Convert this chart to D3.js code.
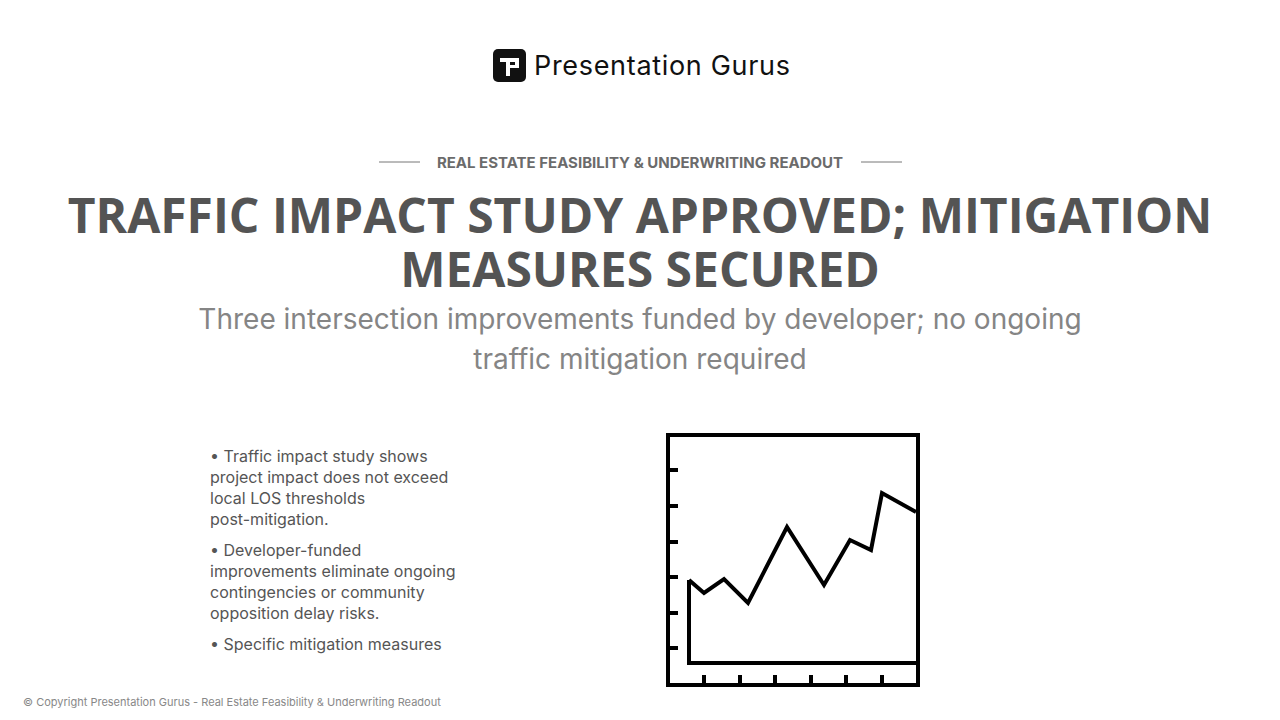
<!DOCTYPE html><html><head><meta charset="utf-8"><script src="https://cdn.jsdelivr.net/npm/d3@7"></script>
<style>body{margin:0;background:#fff}</style></head><body><svg id="c" width="1280" height="720"></svg>
<script>
const lineX=[0,15,35,59,98,135,161,182,193,227];
const lineY=[83,70,84,60,136,78,123,113,170,151];
const yTicks=[15,50,86,121,157,193];
const xTicks=[15,51,86,122,157,193];
const bullets=[["• Traffic impact study shows","project impact does not exceed","local LOS thresholds","post-mitigation."],["• Developer-funded","improvements eliminate ongoing","contingencies or community","opposition delay risks."],["• Specific mitigation measures"]];
const svg=d3.select("#c");
// logo
const g=svg.append("g");
g.append("rect").attr("x",493).attr("y",49).attr("width",33).attr("height",33).attr("rx",5).attr("fill","#111");
g.append("path").attr("d","M500,58h19v10h-9v8h-4v-14h-6z M510,62h5v3h-5z").attr("fill","#fff").attr("fill-rule","evenodd");
g.append("text").attr("x",534).attr("y",75).attr("font-family","Inter").attr("font-size",27).attr("fill","#111").attr("textLength",256).attr("lengthAdjust","spacing").text("Presentation Gurus");
// header
svg.append("text").attr("x",640).attr("y",168).attr("text-anchor","middle").attr("font-family","Inter").attr("font-weight",700).attr("font-size",15).attr("fill","#6b6b6b").text("REAL ESTATE FEASIBILITY & UNDERWRITING READOUT");
svg.append("line").attr("x1",379).attr("x2",420).attr("y1",162).attr("y2",162).attr("stroke","#777");
svg.append("line").attr("x1",861).attr("x2",902).attr("y1",162).attr("y2",162).attr("stroke","#777");
["TRAFFIC IMPACT STUDY APPROVED; MITIGATION","MEASURES SECURED"].forEach((t,i)=>svg.append("text").attr("x",640).attr("y",233+i*54).attr("text-anchor","middle").attr("font-family","Open Sans").attr("font-weight",700).attr("font-size",48).attr("fill","#545454").text(t));
["Three intersection improvements funded by developer; no ongoing","traffic mitigation required"].forEach((t,i)=>svg.append("text").attr("x",640).attr("y",329+i*40).attr("text-anchor","middle").attr("font-family","Inter").attr("font-size",28).attr("fill","#858585").text(t));
let y=462;
bullets.forEach(b=>{b.forEach(t=>{svg.append("text").attr("x",210).attr("y",y).attr("font-family","Inter").attr("font-size",16).attr("fill","#555").text(t);y+=21;});y+=10;});
svg.append("text").attr("x",23).attr("y",706).attr("font-family","Inter").attr("font-size",11).attr("fill","#888").text("© Copyright Presentation Gurus - Real Estate Feasibility & Underwriting Readout");
// icon chart
const x=d3.scaleLinear().domain([0,227]).range([689,916]);
const yS=d3.scaleLinear().domain([0,228]).range([663,435]);
const ic=svg.append("g").attr("stroke","#000").attr("fill","none").attr("stroke-width",4);
ic.append("rect").attr("x",668).attr("y",435).attr("width",250).attr("height",250);
ic.append("path").attr("d",d3.line()([[x(0),yS(lineY[0])],[x(0),yS(0)],[x(227),yS(0)]]));
ic.append("path").attr("stroke-linejoin","miter").attr("d",d3.line().x((d,i)=>x(lineX[i])).y(d=>yS(d))(lineY));
yTicks.forEach(v=>ic.append("line").attr("x1",668).attr("x2",678).attr("y1",yS(v)).attr("y2",yS(v)));
xTicks.forEach(v=>ic.append("line").attr("x1",x(v)).attr("x2",x(v)).attr("y1",675).attr("y2",685));
</script></body></html>
